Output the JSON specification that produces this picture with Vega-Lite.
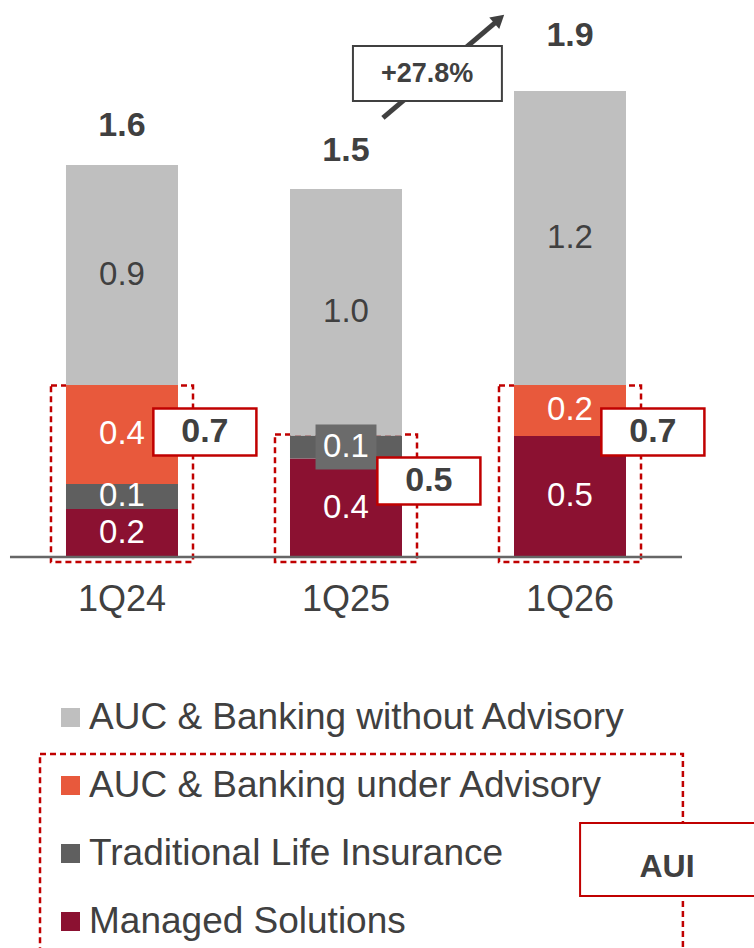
{
  "$schema": "https://vega.github.io/schema/vega-lite/v6.json",
  "width": 754,
  "height": 948,
  "autosize": {"type": "fit", "contains": "padding"},
  "padding": 0,
  "config": {
    "view": {"stroke": null},
    "font": "Liberation Sans",
    "text": {"font": "Liberation Sans"},
    "legend": {
      "orient": "none",
      "legendX": 52,
      "legendY": 699,
      "padding": 0,
      "symbolType": "square",
      "symbolSize": 361,
      "symbolStrokeWidth": 0,
      "symbolOpacity": 1,
      "labelFontSize": 37,
      "labelFont": "Liberation Sans",
      "labelColor": "#404040",
      "labelOffset": 0,
      "rowPadding": 30,
      "labelLimit": 0
    }
  },
  "datasets": {
    "segments": [
      {"quarter": "1Q24", "idx": 1, "category": "Managed Solutions", "ord": 1, "value": 0.196},
      {"quarter": "1Q24", "idx": 1, "category": "Traditional Life Insurance", "ord": 2, "value": 0.102},
      {"quarter": "1Q24", "idx": 1, "category": "AUC & Banking under Advisory", "ord": 3, "value": 0.404},
      {"quarter": "1Q24", "idx": 1, "category": "AUC & Banking without Advisory", "ord": 4, "value": 0.898},
      {"quarter": "1Q25", "idx": 2, "category": "Managed Solutions", "ord": 1, "value": 0.402},
      {"quarter": "1Q25", "idx": 2, "category": "Traditional Life Insurance", "ord": 2, "value": 0.094},
      {"quarter": "1Q25", "idx": 2, "category": "AUC & Banking without Advisory", "ord": 4, "value": 1.006},
      {"quarter": "1Q26", "idx": 3, "category": "Managed Solutions", "ord": 1, "value": 0.494},
      {"quarter": "1Q26", "idx": 3, "category": "AUC & Banking under Advisory", "ord": 3, "value": 0.208},
      {"quarter": "1Q26", "idx": 3, "category": "AUC & Banking without Advisory", "ord": 4, "value": 1.2}
    ],
    "totals": [
      {"quarter": "1Q24", "idx": 1, "total": 1.6, "aui": 0.7},
      {"quarter": "1Q25", "idx": 2, "total": 1.5, "aui": 0.5},
      {"quarter": "1Q26", "idx": 3, "total": 1.9, "aui": 0.7}
    ]
  },
  "layer": [
    {
      "data": {"name": "totals"},
      "transform": [
        {"calculate": "datum.idx - 0.317", "as": "bx1"},
        {"calculate": "datum.idx + 0.317", "as": "bx2"}
      ],
      "mark": {"type": "rect", "fillOpacity": 0, "stroke": "#c00000", "strokeWidth": 2.5, "strokeDash": [6, 4]},
      "encoding": {
        "x": {"field": "bx1", "type": "quantitative", "axis": null, "scale": {"domain": [0.4554, 3.8214], "nice": false, "zero": false}},
        "x2": {"field": "bx2"},
        "y": {"field": "aui", "type": "quantitative", "axis": null, "scale": {"domain": [-1.596, 2.2735], "nice": false, "zero": false}},
        "y2": {"datum": -0.02}
      }
    },
    {
      "data": {"name": "segments"},
      "transform": [
        {"stack": "value", "groupby": ["quarter"], "sort": [{"field": "ord", "order": "ascending"}], "as": ["v0", "v1"]},
        {"calculate": "datum.idx - 0.25", "as": "xl"},
        {"calculate": "datum.idx + 0.25", "as": "xr"}
      ],
      "mark": {"type": "rect"},
      "encoding": {
        "x": {"field": "xl", "type": "quantitative", "axis": null, "scale": {"domain": [0.4554, 3.8214], "nice": false, "zero": false}},
        "x2": {"field": "xr"},
        "y": {"field": "v0", "type": "quantitative", "axis": null, "scale": {"domain": [-1.596, 2.2735], "nice": false, "zero": false}},
        "y2": {"field": "v1"},
        "color": {
          "field": "category",
          "type": "nominal",
          "scale": {
            "domain": ["AUC & Banking without Advisory", "AUC & Banking under Advisory", "Traditional Life Insurance", "Managed Solutions"],
            "range": ["#bfbfbf", "#e8593c", "#5f5f5f", "#8b1131"]
          },
          "legend": {"title": null}
        }
      }
    },
    {
      "data": {"values": [{}]},
      "mark": {"type": "rule", "color": "#666666", "strokeWidth": 2.5},
      "encoding": {
        "x": {"datum": 0.5, "type": "quantitative", "scale": {"domain": [0.4554, 3.8214], "nice": false, "zero": false}},
        "x2": {"datum": 3.5},
        "y": {"datum": 0, "type": "quantitative", "scale": {"domain": [-1.596, 2.2735], "nice": false, "zero": false}}
      }
    },
    {
      "data": {"name": "segments"},
      "transform": [
        {"stack": "value", "groupby": ["quarter"], "sort": [{"field": "ord", "order": "ascending"}], "as": ["v0", "v1"]},
        {"filter": "datum.quarter === '1Q25' && datum.category === 'Traditional Life Insurance'"},
        {"calculate": "(datum.v0 + datum.v1) / 2 - 0.092", "as": "lb0"},
        {"calculate": "(datum.v0 + datum.v1) / 2 + 0.092", "as": "lb1"},
        {"calculate": "datum.idx - 0.136", "as": "lx0"},
        {"calculate": "datum.idx + 0.136", "as": "lx1"}
      ],
      "mark": {"type": "rect", "fill": "#6b6b6b"},
      "encoding": {
        "x": {"field": "lx0", "type": "quantitative", "scale": {"domain": [0.4554, 3.8214], "nice": false, "zero": false}},
        "x2": {"field": "lx1"},
        "y": {"field": "lb0", "type": "quantitative", "scale": {"domain": [-1.596, 2.2735], "nice": false, "zero": false}},
        "y2": {"field": "lb1"}
      }
    },
    {
      "data": {"name": "segments"},
      "transform": [
        {"stack": "value", "groupby": ["quarter"], "sort": [{"field": "ord", "order": "ascending"}], "as": ["v0", "v1"]},
        {"calculate": "(datum.v0 + datum.v1) / 2", "as": "mid"}
      ],
      "mark": {"type": "text", "fontSize": 33, "baseline": "middle", "align": "center"},
      "encoding": {
        "x": {"field": "idx", "type": "quantitative", "scale": {"domain": [0.4554, 3.8214], "nice": false, "zero": false}},
        "y": {"field": "mid", "type": "quantitative", "scale": {"domain": [-1.596, 2.2735], "nice": false, "zero": false}},
        "text": {"field": "value", "type": "quantitative", "format": ".1f"},
        "color": {"condition": {"test": "datum.category === 'AUC & Banking without Advisory'", "value": "#404040"}, "value": "#ffffff"}
      }
    },
    {
      "data": {"name": "totals"},
      "transform": [
        {"calculate": "datum.idx + 0.14", "as": "kx0"},
        {"calculate": "datum.idx + 0.6", "as": "kx1"},
        {"calculate": "datum.aui - 0.286", "as": "ky0"},
        {"calculate": "datum.aui - 0.094", "as": "ky1"}
      ],
      "mark": {"type": "rect", "fill": "#ffffff", "stroke": "#c00000", "strokeWidth": 2.5},
      "encoding": {
        "x": {"field": "kx0", "type": "quantitative", "scale": {"domain": [0.4554, 3.8214], "nice": false, "zero": false}},
        "x2": {"field": "kx1"},
        "y": {"field": "ky0", "type": "quantitative", "scale": {"domain": [-1.596, 2.2735], "nice": false, "zero": false}},
        "y2": {"field": "ky1"}
      }
    },
    {
      "data": {"name": "totals"},
      "transform": [
        {"calculate": "datum.idx + 0.37", "as": "tx"},
        {"calculate": "datum.aui - 0.19", "as": "ty"}
      ],
      "mark": {"type": "text", "fontSize": 34, "fontWeight": "bold", "color": "#404040", "baseline": "middle", "align": "center"},
      "encoding": {
        "x": {"field": "tx", "type": "quantitative", "scale": {"domain": [0.4554, 3.8214], "nice": false, "zero": false}},
        "y": {"field": "ty", "type": "quantitative", "scale": {"domain": [-1.596, 2.2735], "nice": false, "zero": false}},
        "text": {"field": "aui", "type": "quantitative", "format": ".1f"}
      }
    },
    {
      "data": {"name": "totals"},
      "transform": [{"filter": "datum.idx < 3"}],
      "mark": {"type": "text", "fontSize": 34, "fontWeight": "bold", "color": "#404040", "baseline": "middle", "align": "center", "dy": -39},
      "encoding": {
        "x": {"field": "idx", "type": "quantitative", "scale": {"domain": [0.4554, 3.8214], "nice": false, "zero": false}},
        "y": {"field": "total", "type": "quantitative", "scale": {"domain": [-1.596, 2.2735], "nice": false, "zero": false}},
        "text": {"field": "total", "type": "quantitative", "format": ".1f"}
      }
    },
    {
      "data": {"name": "totals"},
      "transform": [{"filter": "datum.idx === 3"}],
      "mark": {"type": "text", "fontSize": 34, "fontWeight": "bold", "color": "#404040", "baseline": "middle", "align": "center", "dy": -56},
      "encoding": {
        "x": {"field": "idx", "type": "quantitative", "scale": {"domain": [0.4554, 3.8214], "nice": false, "zero": false}},
        "y": {"field": "total", "type": "quantitative", "scale": {"domain": [-1.596, 2.2735], "nice": false, "zero": false}},
        "text": {"field": "total", "type": "quantitative", "format": ".1f"}
      }
    },
    {
      "data": {"name": "totals"},
      "mark": {"type": "text", "fontSize": 36, "color": "#404040", "baseline": "middle", "align": "center"},
      "encoding": {
        "x": {"field": "idx", "type": "quantitative", "scale": {"domain": [0.4554, 3.8214], "nice": false, "zero": false}},
        "y": {"datum": -0.176, "type": "quantitative", "scale": {"domain": [-1.596, 2.2735], "nice": false, "zero": false}},
        "text": {"field": "quarter", "type": "nominal"}
      }
    },
    {
      "data": {"values": [{}]},
      "mark": {"type": "rule", "color": "#404040", "strokeWidth": 5},
      "encoding": {
        "x": {"datum": 2.165, "type": "quantitative", "scale": {"domain": [0.4554, 3.8214], "nice": false, "zero": false}},
        "x2": {"datum": 2.665},
        "y": {"datum": 1.792, "type": "quantitative", "scale": {"domain": [-1.596, 2.2735], "nice": false, "zero": false}},
        "y2": {"datum": 2.18}
      }
    },
    {
      "data": {"values": [{}]},
      "mark": {"type": "point", "shape": "triangle-up", "filled": true, "color": "#404040", "opacity": 1, "size": 230, "angle": 49},
      "encoding": {
        "x": {"datum": 2.684, "type": "quantitative", "scale": {"domain": [0.4554, 3.8214], "nice": false, "zero": false}},
        "y": {"datum": 2.196, "type": "quantitative", "scale": {"domain": [-1.596, 2.2735], "nice": false, "zero": false}}
      }
    },
    {
      "data": {"values": [{}]},
      "mark": {"type": "rect", "fill": "#ffffff", "stroke": "#404040", "strokeWidth": 2},
      "encoding": {
        "x": {"datum": 2.031, "type": "quantitative", "scale": {"domain": [0.4554, 3.8214], "nice": false, "zero": false}},
        "x2": {"datum": 2.696},
        "y": {"datum": 1.861, "type": "quantitative", "scale": {"domain": [-1.596, 2.2735], "nice": false, "zero": false}},
        "y2": {"datum": 2.086}
      }
    },
    {
      "data": {"values": [{"label": "+27.8%"}]},
      "mark": {"type": "text", "fontSize": 27, "fontWeight": "bold", "color": "#404040", "baseline": "middle", "align": "center"},
      "encoding": {
        "x": {"datum": 2.362, "type": "quantitative", "scale": {"domain": [0.4554, 3.8214], "nice": false, "zero": false}},
        "y": {"datum": 1.971, "type": "quantitative", "scale": {"domain": [-1.596, 2.2735], "nice": false, "zero": false}},
        "text": {"field": "label", "type": "nominal"}
      }
    },
    {
      "data": {"values": [{}]},
      "mark": {"type": "rect", "fillOpacity": 0, "stroke": "#c00000", "strokeWidth": 2.5, "strokeDash": [6, 4], "clip": true},
      "encoding": {
        "x": {"datum": 0.634, "type": "quantitative", "scale": {"domain": [0.4554, 3.8214], "nice": false, "zero": false}},
        "x2": {"datum": 3.504},
        "y": {"datum": -1.75, "type": "quantitative", "scale": {"domain": [-1.596, 2.2735], "nice": false, "zero": false}},
        "y2": {"datum": -0.804}
      }
    },
    {
      "data": {"values": [{}]},
      "mark": {"type": "rect", "fill": "#ffffff", "stroke": "#c00000", "strokeWidth": 2, "clip": true},
      "encoding": {
        "x": {"datum": 3.045, "type": "quantitative", "scale": {"domain": [0.4554, 3.8214], "nice": false, "zero": false}},
        "x2": {"datum": 3.95},
        "y": {"datum": -1.384, "type": "quantitative", "scale": {"domain": [-1.596, 2.2735], "nice": false, "zero": false}},
        "y2": {"datum": -1.086}
      }
    },
    {
      "data": {"values": [{"label": "AUI"}]},
      "mark": {"type": "text", "fontSize": 32, "fontWeight": "bold", "color": "#404040", "baseline": "middle", "align": "center"},
      "encoding": {
        "x": {"datum": 3.433, "type": "quantitative", "scale": {"domain": [0.4554, 3.8214], "nice": false, "zero": false}},
        "y": {"datum": -1.265, "type": "quantitative", "scale": {"domain": [-1.596, 2.2735], "nice": false, "zero": false}},
        "text": {"field": "label", "type": "nominal"}
      }
    }
  ]
}
